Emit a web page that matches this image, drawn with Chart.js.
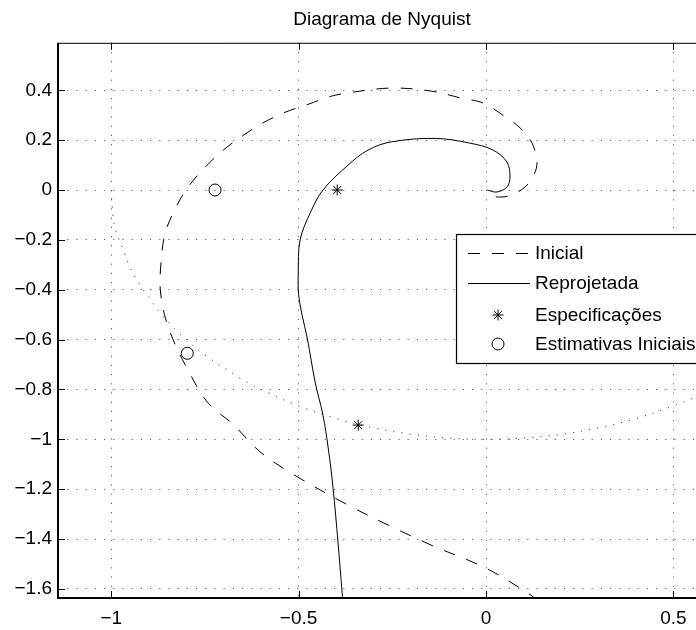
<!DOCTYPE html>
<html>
<head>
<meta charset="utf-8">
<script src="https://cdn.jsdelivr.net/npm/chart.js@4"></script>
<style>
body{margin:0;overflow:hidden;background:#fff}
#wrap{width:716px;height:630px}
</style>
</head>
<body>
<div id="wrap"><canvas id="nyq" width="716" height="630"></canvas></div>
<script>
// curvas (de baixo ate a origem)
const inicialX=[0.14,0.12,0.0,-0.147,-0.261,-0.368,-0.515,-0.603,-0.675,-0.744,-0.803,-0.835,-0.858,-0.869,-0.868,-0.856,-0.824,-0.795,-0.749,-0.701,-0.654,-0.600,-0.541,-0.472,-0.421,-0.371,-0.253,-0.147,-0.067,-0.008,0.045,0.091,0.123,0.136,0.125,0.104,0.069,0.029,0.003]
const inicialY=[-1.65,-1.625,-1.517,-1.424,-1.344,-1.264,-1.14,-1.05,-0.94,-0.85,-0.70,-0.60,-0.50,-0.40,-0.309,-0.173,-0.06,0.012,0.092,0.16,0.213,0.265,0.309,0.345,0.373,0.389,0.409,0.397,0.369,0.349,0.30,0.249,0.188,0.108,0.052,0.012,-0.02,-0.028,-0.012]

const reprojX=[-0.382,-0.384,-0.395,-0.408,-0.421,-0.435,-0.456,-0.477,-0.491,-0.5,-0.501,-0.496,-0.469,-0.435,-0.368,-0.315,-0.253,-0.136,-0.043,0.019,0.056,0.064,0.056,0.029,0.003]
const reprojY=[-1.65,-1.613,-1.412,-1.196,-1.035,-0.903,-0.77,-0.594,-0.50,-0.42,-0.333,-0.2,-0.092,0,0.10,0.16,0.193,0.207,0.188,0.16,0.112,0.052,0.012,-0.008,0]

const circX=[-1,-0.997,-0.99,-0.968,-0.95,-0.928,-0.9,-0.86,-0.8,-0.744,-0.65,-0.584,-0.5,-0.4,-0.3,-0.2,-0.1,0,0.1,0.2,0.3,0.4,0.5,0.552,0.6]
const circY=[0,-0.072,-0.152,-0.24,-0.31,-0.37,-0.43,-0.51,-0.6,-0.668,-0.76,-0.812,-0.866,-0.917,-0.954,-0.98,-0.995,-1,-0.995,-0.98,-0.954,-0.917,-0.866,-0.835,-0.8]

const especX=[-0.397,-0.341]
const especY=[0,-0.943]
const estimX=[-0.723,-0.797]
const estimY=[0,-0.655]

const xTicks=[-1,-0.5,0,0.5]
const yTicks=[0.4,0.2,0,-0.2,-0.4,-0.6,-0.8,-1,-1.2,-1.4,-1.6]
const legendLabels=["Inicial","Reprojetada","Especificações","Estimativas Iniciais"]

const FONT="'Liberation Sans', Arial, Helvetica, sans-serif"
const toPts=(xs,ys)=>xs.map((x,i)=>({x:x,y:ys[i]}))
const fmt=v=>{
  if(v==0) return "0"
  const s=String(Math.abs(v))
  return v<0 ? "\u2212"+s : s
}

// legenda, moldura e ticks internos estilo matlab
const matlabFrame={
  id:"matlabFrame",
  afterDraw(chart){
    const ctx=chart.ctx
    const a=chart.chartArea
    const sx=chart.scales.x, sy=chart.scales.y
    ctx.save()
    ctx.strokeStyle="#000"
    ctx.lineWidth=1
    ctx.beginPath()
    xTicks.forEach(v=>{
      const px=Math.round(sx.getPixelForValue(v))+0.5
      ctx.moveTo(px,a.bottom); ctx.lineTo(px,a.bottom-7)
      ctx.moveTo(px,a.top); ctx.lineTo(px,a.top+7)
    })
    yTicks.forEach(v=>{
      const py=Math.round(sy.getPixelForValue(v))+0.5
      ctx.moveTo(a.left,py); ctx.lineTo(a.left+7,py)
      ctx.moveTo(a.right,py); ctx.lineTo(a.right-7,py)
    })
    ctx.stroke()
    ctx.lineWidth=1
    ctx.beginPath()
    ctx.moveTo(a.left,a.top+0.5); ctx.lineTo(a.right,a.top+0.5)
    ctx.stroke()
    ctx.lineWidth=2
    ctx.beginPath()
    ctx.moveTo(a.left,a.top); ctx.lineTo(a.left,a.bottom)
    ctx.lineTo(a.right,a.bottom); ctx.lineTo(a.right,a.top)
    ctx.stroke()

    // caixa da legenda
    const lx=456.5, ly=234.5, lw=300, lh=129
    ctx.fillStyle="#fff"
    ctx.fillRect(lx,ly,lw,lh)
    ctx.lineWidth=1.2
    ctx.strokeRect(lx,ly,lw,lh)
    const rows=[253,283,315,344]
    const ds=chart.data.datasets
    ctx.font="19px "+FONT
    ctx.textBaseline="middle"
    rows.forEach((ry,i)=>{
      const d=ds[i]
      if(d.showLine){
        ctx.save()
        ctx.lineWidth=1
        ctx.setLineDash(d.borderDash||[])
        ctx.beginPath()
        ctx.moveTo(468,ry+0.5); ctx.lineTo(530,ry+0.5)
        ctx.stroke()
        ctx.restore()
      }else{
        ctx.save()
        ctx.fillStyle="rgba(0,0,0,0)"
        ctx.lineWidth=1
        Chart.helpers.drawPoint(ctx,{pointStyle:d.pointStyle,radius:d.pointRadius,borderWidth:1},498,ry)
        ctx.restore()
      }
      ctx.fillStyle="#000"
      ctx.fillText(legendLabels[i],535,ry+1)
    })
    ctx.restore()
  }
}

new Chart(document.getElementById("nyq"),{
  type:"scatter",
  data:{
    datasets:[
      {label:legendLabels[0],data:toPts(inicialX,inicialY),showLine:true,borderColor:"#000",borderWidth:1,borderDash:[12,12],pointRadius:0,tension:0.35},
      {label:legendLabels[1],data:toPts(reprojX,reprojY),showLine:true,borderColor:"#000",borderWidth:1,pointRadius:0,tension:0.35},
      {label:legendLabels[2],data:toPts(especX,especY),showLine:false,pointStyle:"star",pointRadius:5.5,borderColor:"#000",borderWidth:1,backgroundColor:"transparent"},
      {label:legendLabels[3],data:toPts(estimX,estimY),showLine:false,pointStyle:"circle",pointRadius:6,borderColor:"#000",borderWidth:1,backgroundColor:"transparent"},
      {label:"",data:toPts(circX,circY),showLine:true,borderColor:"#444",borderWidth:1,borderDash:[1.2,7],pointRadius:0,tension:0.35}
    ]
  },
  options:{
    responsive:false,
    animation:false,
    layout:{padding:{right:10,left:0,top:0,bottom:0}},
    plugins:{
      legend:{display:false},
      tooltip:{enabled:false},
      title:{
        display:true,
        text:"Diagrama de Nyquist",
        fullSize:false,
        color:"#000",
        font:{family:FONT,size:19,weight:"normal",lineHeight:1.2},
        padding:{top:8,bottom:12}
      }
    },
    scales:{
      x:{
        type:"linear",
        min:-1.142,
        max:0.587,
        afterBuildTicks:s=>{s.ticks=xTicks.map(v=>({value:v}))},
        afterFit:s=>{s.height=32},
        ticks:{color:"#000",padding:9,font:{family:FONT,size:19},callback:v=>fmt(v)},
        grid:{color:"#666",lineWidth:1,drawTicks:false},
        border:{display:false,dash:[1.2,8]}
      },
      y:{
        type:"linear",
        min:-1.6366,
        max:0.5905,
        afterBuildTicks:s=>{s.ticks=yTicks.map(v=>({value:v}))},
        afterFit:s=>{s.width=58},
        ticks:{color:"#000",padding:6,font:{family:FONT,size:19},callback:v=>fmt(v)},
        grid:{color:"#666",lineWidth:1,drawTicks:false},
        border:{display:false,dash:[1.2,8]}
      }
    }
  },
  plugins:[matlabFrame]
})
</script>
</body>
</html>
